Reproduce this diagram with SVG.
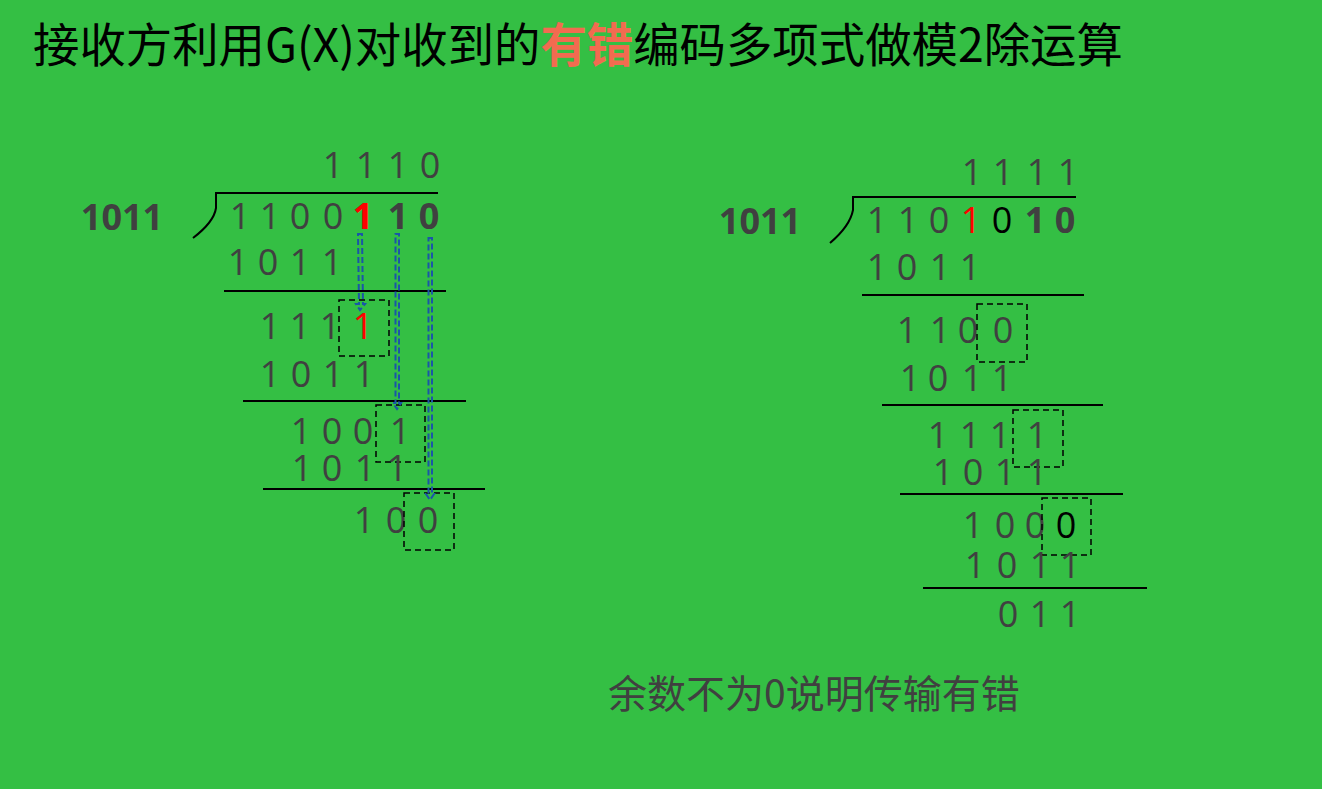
<svg xmlns="http://www.w3.org/2000/svg" width="1322" height="789" viewBox="0 0 1322 789">
<style>
.d{font-family:"Open Sans","Noto Sans",sans-serif;font-size:36px;fill:#404040;text-anchor:middle}
.b{font-weight:bold}
.r{fill:#FF0000}
.k{fill:#000000}
.cjk{font-family:"Noto Sans CJK SC",sans-serif}
.rule{stroke:#000;stroke-width:2;fill:none}
.box{stroke:#000;stroke-width:1.5;stroke-dasharray:6 4;fill:none}
.arr{stroke:#1A56A8;stroke-width:2;stroke-dasharray:6 3;fill:none}
</style>
<rect x="0" y="0" width="1322" height="789" fill="#34BF44"/>
<g id="title">
<text class="cjk" x="33" y="62" font-size="46.4" fill="#000">接收方利用G(X)对收到的<tspan fill="#F26B50" font-weight="bold">有错</tspan>编码多项式做模2除运算</text>
</g>
<g id="left-division">
<path class="rule" d="M438 193 H216 V208 Q214 222 193 238"/>
<text class="d b" x="122" y="230" font-size="37">1011</text>
<text class="d" y="178"><tspan x="333">1</tspan><tspan x="366">1</tspan><tspan x="398">1</tspan><tspan x="430">0</tspan></text>
<text class="d" y="229"><tspan x="240">1</tspan><tspan x="270">1</tspan><tspan x="300">0</tspan><tspan x="333">0</tspan><tspan x="363" class="b r">1</tspan><tspan x="398" class="b">1</tspan><tspan x="429" class="b">0</tspan></text>
<text class="d" y="275"><tspan x="238">1</tspan><tspan x="268">0</tspan><tspan x="300">1</tspan><tspan x="332">1</tspan></text>
<line class="rule" x1="224" y1="291" x2="446" y2="291"/>
<text class="d" y="339"><tspan x="270">1</tspan><tspan x="300">1</tspan><tspan x="330">1</tspan><tspan x="363" class="r">1</tspan></text>
<rect class="box" x="339" y="300" width="50" height="56"/>
<text class="d" y="387"><tspan x="270">1</tspan><tspan x="301">0</tspan><tspan x="333">1</tspan><tspan x="364">1</tspan></text>
<line class="rule" x1="243" y1="401" x2="466" y2="401"/>
<text class="d" y="444"><tspan x="301">1</tspan><tspan x="332">0</tspan><tspan x="363">0</tspan><tspan x="400">1</tspan></text>
<rect class="box" x="376" y="405" width="49" height="57"/>
<text class="d" y="481"><tspan x="302">1</tspan><tspan x="332">0</tspan><tspan x="365">1</tspan><tspan x="397">1</tspan></text>
<line class="rule" x1="263" y1="489" x2="485" y2="489"/>
<text class="d" y="533"><tspan x="364">1</tspan><tspan x="396">0</tspan><tspan x="428">0</tspan></text>
<rect class="box" x="404" y="493" width="50" height="57"/>
</g>
<g id="connectors">
<path class="arr" d="M358 234 H362 L363 304 H365 L360 310 L356 304 H359 Z"/>
<path class="arr" d="M395.5 234 H399 V403 H401 L397 409 L393 403 H395.5 Z"/>
<path class="arr" d="M428.5 238 H432 V494 H434 L430 500 L426 494 H428.5 Z"/>
</g>
<g id="right-division">
<path class="rule" d="M1076 197 H853 V210 Q850 226 830 243"/>
<text class="d b" x="760" y="234" font-size="37">1011</text>
<text class="d" y="185"><tspan x="972">1</tspan><tspan x="1003">1</tspan><tspan x="1037">1</tspan><tspan x="1068">1</tspan></text>
<text class="d" y="233"><tspan x="877">1</tspan><tspan x="908">1</tspan><tspan x="939">0</tspan><tspan x="971" class="r">1</tspan><tspan x="1002" class="k">0</tspan><tspan x="1035" class="b">1</tspan><tspan x="1065" class="b">0</tspan></text>
<text class="d" y="280"><tspan x="877">1</tspan><tspan x="907">0</tspan><tspan x="940">1</tspan><tspan x="970">1</tspan></text>
<line class="rule" x1="862" y1="295" x2="1084" y2="295"/>
<text class="d" y="343"><tspan x="907">1</tspan><tspan x="940">1</tspan><tspan x="968">0</tspan><tspan x="1003">0</tspan></text>
<rect class="box" x="977" y="304" width="50" height="58"/>
<text class="d" y="391"><tspan x="910">1</tspan><tspan x="938">0</tspan><tspan x="972">1</tspan><tspan x="1002">1</tspan></text>
<line class="rule" x1="882" y1="405" x2="1103" y2="405"/>
<text class="d" y="448"><tspan x="938">1</tspan><tspan x="970">1</tspan><tspan x="1000">1</tspan><tspan x="1037">1</tspan></text>
<rect class="box" x="1013" y="410" width="50" height="57"/>
<text class="d" y="485"><tspan x="943">1</tspan><tspan x="973">0</tspan><tspan x="1005">1</tspan><tspan x="1037">1</tspan></text>
<line class="rule" x1="900" y1="494" x2="1123" y2="494"/>
<text class="d" y="538"><tspan x="973">1</tspan><tspan x="1005">0</tspan><tspan x="1035">0</tspan><tspan x="1066" class="k">0</tspan></text>
<rect class="box" x="1042" y="498" width="49" height="57"/>
<text class="d" y="578"><tspan x="975">1</tspan><tspan x="1007">0</tspan><tspan x="1040">1</tspan><tspan x="1070">1</tspan></text>
<line class="rule" x1="923" y1="588" x2="1147" y2="588"/>
<text class="d" y="627"><tspan x="1008">0</tspan><tspan x="1040">1</tspan><tspan x="1070">1</tspan></text>
</g>
<g id="conclusion">
<text class="cjk" x="608" y="708" font-size="39" fill="#404040">余数不为0说明传输有错</text>
</g>
</svg>
